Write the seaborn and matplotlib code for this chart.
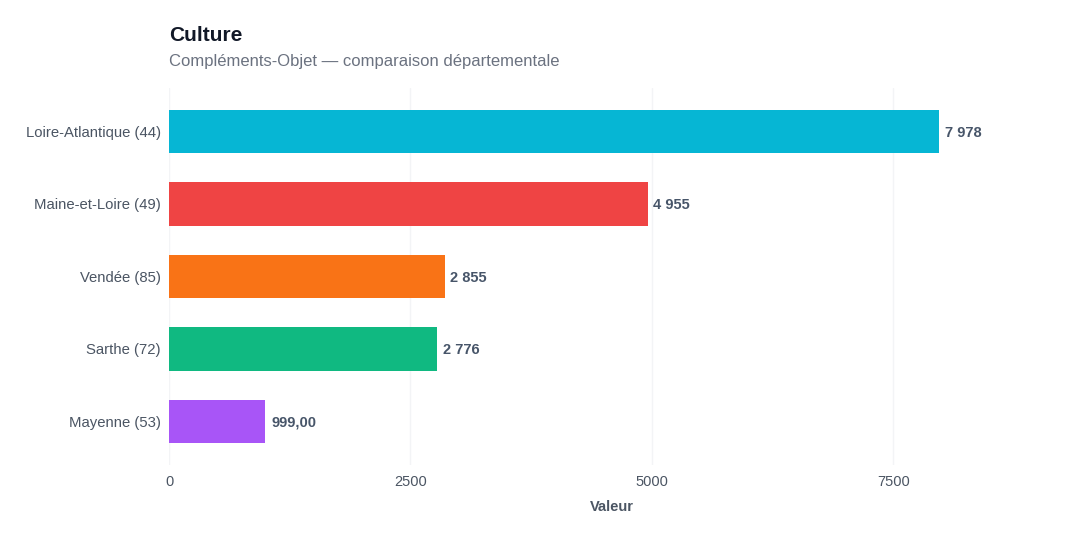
import matplotlib
matplotlib.use("Agg")
import matplotlib.pyplot as plt
import seaborn as sns
import pandas as pd

categories = ["Loire-Atlantique (44)", "Maine-et-Loire (49)", "Vendée (85)", "Sarthe (72)", "Mayenne (53)"]
values = [7978, 4955, 2855, 2776, 999]
value_labels = ["7 978", "4 955", "2 855", "2 776", "999,00"]
colors = ["#06b6d4", "#ef4444", "#f97316", "#10b981", "#a855f7"]
xticks = [0, 2500, 5000, 7500]

sns.set_theme(style="white")
plt.rcParams['font.family'] = ['Liberation Sans', 'DejaVu Sans']

df = pd.DataFrame({"cat": categories, "val": values})

fig = plt.figure(figsize=(10.8, 5.4), dpi=100)
ax = fig.add_axes([0.1565, 0.139, 0.8204, 0.698])

sns.barplot(data=df, x="val", y="cat", hue="cat", palette=colors, order=categories,
            width=0.6, legend=False, ax=ax, saturation=1, linewidth=0)

ax.set_xlim(0, max(values) * 1.15)
ax.set_ylim(4.6, -0.6)
ax.set_xticks(xticks)
ax.set_xticklabels([str(t) for t in xticks])
ax.grid(axis="x", color="#f3f4f6", linewidth=1.0)
ax.grid(axis="y", visible=False)
ax.set_axisbelow(True)
for s in ax.spines.values():
    s.set_visible(False)
ax.tick_params(axis="both", length=0, labelsize=10.5, colors="#4b5563")
ax.tick_params(axis="y", labelsize=10.7, pad=6)
ax.tick_params(axis="x", pad=7)
ax.set_ylabel("")
ax.set_xlabel("Valeur", fontsize=10.5, fontweight="bold", color="#4b5563", labelpad=8)

for i, (v, lab) in enumerate(zip(values, value_labels)):
    ax.annotate(lab, xy=(v, i), xytext=(4, -1), textcoords="offset points",
                va="center", ha="left", fontsize=10.5, fontweight="bold", color="#475569")

fig.text(169/1080, 1 - 41/540, "Culture", fontsize=15, fontweight="bold", color="#111827",
         ha="left", va="baseline")
fig.text(169/1080, 1 - 66/540, "Compléments-Objet — comparaison départementale", fontsize=12,
         color="#6b7280", ha="left", va="baseline")

fig.savefig("out.png", dpi=100)
